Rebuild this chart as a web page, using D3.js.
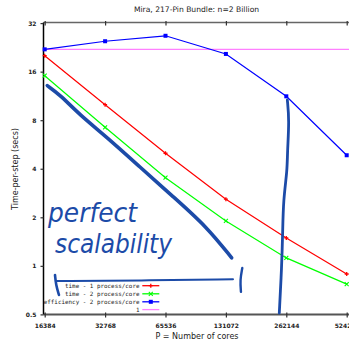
<!DOCTYPE html>
<html>
<head>
<meta charset="utf-8">
<script src="https://cdn.jsdelivr.net/npm/d3@7"></script>
<style>
  html, body { margin: 0; padding: 0; background: #fff; }
  svg { display: block; }
</style>
</head>
<body>
<svg id="chart" width="349" height="341"></svg>
<script>
// chart values
const cores = [16384, 32768, 65536, 131072, 262144, 524288];
const time1 = [20.1, 9.98, 4.99, 2.59, 1.49, 0.89];
const time2 = [15.1, 7.23, 3.52, 1.90, 1.12, 0.77];
const efficiency = [22.0, 24.7, 26.7, 20.6, 11.25, 4.85];   // plotted on the time axis
const unitLine = 22.0;                                        // where efficiency "1" sits
const yTicks = [0.5, 1, 2, 4, 8, 16, 32];
const legendLabels = ['time - 1 process/core', 'time - 2 process/core', 'efficiency - 2 process/core', '1'];

// handwritten pen marks, in data units [cores, secs]
const penDiagonal = [[16880, 13.1], [19530, 11.5], [24560, 8.6], [33370, 6.3], [48900, 4.1], [71660, 2.68], [105150, 1.75], [140080, 1.12]];
const penVertical = [[265200, 10.7], [271300, 8.0], [265200, 5.0], [265200, 3.93], [253300, 2.56], [251500, 1.6], [248700, 0.99], [241900, 0.51]];
const penHorizontal = [[18650, 0.806], [48900, 0.811], [142200, 0.825]];
const penLeftParen = [[18440, 0.878], [18650, 0.761], [19300, 0.66]];
const penRightParen = [[158200, 0.97], [154200, 0.817], [155800, 0.69]];
const penWords = [
  { text: 'perfect', at: [17016, 1.87], len: 89 },
  { text: 'scalability', at: [18440, 1.20], len: 117 }
];

const W = 349, H = 341;
const PLOT = { left: 43.5, right: 351, top: 22.5, bottom: 314.4 };
const PEN = '#1c4ba8';

const svg = d3.select('#chart');

const x = d3.scaleLog().base(2).domain([16384, 524288]).range([44.7, 346.7]);
const y = d3.scaleLog().base(2).domain([0.5, 32]).range([314.4, 23.1]);

// title
svg.append('text')
  .attr('x', 196.5).attr('y', 12)
  .attr('text-anchor', 'middle')
  .attr('font-family', 'DejaVu Sans, sans-serif')
  .attr('font-size', 7.6)
  .attr('fill', '#222')
  .text('Mira, 217-Pin Bundle: n=2 Billion');

// axis titles
svg.append('text')
  .attr('x', 197).attr('y', 339)
  .attr('text-anchor', 'middle')
  .attr('font-family', 'DejaVu Sans, sans-serif')
  .attr('font-size', 8)
  .attr('fill', '#222')
  .text('P = Number of cores');

svg.append('text')
  .attr('transform', 'translate(18,169) rotate(-90)')
  .attr('text-anchor', 'middle')
  .attr('font-family', 'DejaVu Sans, sans-serif')
  .attr('font-size', 8)
  .attr('fill', '#222')
  .text('Time-per-step (secs)');

// axes
const tickFont = (g) => g.selectAll('text')
  .attr('font-family', 'DejaVu Sans, sans-serif')
  .attr('font-weight', 'bold')
  .attr('font-size', 6)
  .attr('fill', '#222');

const xAxisB = svg.append('g')
  .attr('transform', `translate(0,${PLOT.bottom})`)
  .call(d3.axisBottom(x).tickValues(cores).tickFormat(d3.format('d')).tickSizeInner(3).tickSizeOuter(0).tickPadding(6));
xAxisB.select('.domain').attr('d', `M${PLOT.left},0H${W}`).attr('stroke', '#555').attr('stroke-width', 2);
xAxisB.selectAll('.tick line').attr('y1', -2).attr('stroke', '#333').attr('stroke-width', 1.2);
tickFont(xAxisB);

const xAxisT = svg.append('g')
  .attr('transform', `translate(0,${PLOT.top})`)
  .call(d3.axisTop(x).tickValues(cores).tickFormat('').tickSizeInner(-3).tickSizeOuter(0));
xAxisT.select('.domain').attr('d', `M${PLOT.left},0H${W}`).attr('stroke', '#666').attr('stroke-width', 1.5);
xAxisT.selectAll('.tick line').attr('y1', -1.5).attr('stroke', '#333').attr('stroke-width', 1.2);

const yAxis = svg.append('g')
  .attr('transform', `translate(${PLOT.left},0)`)
  .call(d3.axisLeft(y).tickValues(yTicks).tickFormat(d3.format('')).tickSizeInner(3).tickSizeOuter(0).tickPadding(4));
yAxis.select('.domain').attr('d', `M0,${PLOT.top}V${PLOT.bottom}`).attr('stroke', '#000').attr('stroke-width', 1.5);
yAxis.selectAll('.tick line').attr('stroke', '#333').attr('stroke-width', 1.2);
tickFont(yAxis);

// series
const line = d3.line().x((d) => x(d[0])).y((d) => y(d[1]));
const series = [
  { values: time1, color: '#ff0000', marker: 'plus' },
  { values: time2, color: '#00ff00', marker: 'cross' },
  { values: efficiency, color: '#0000ff', marker: 'square' }
];

const plotG = svg.append('g');

plotG.append('path')
  .attr('d', line([[cores[0], unitLine], [cores[cores.length - 1] * 1.05, unitLine]]))
  .attr('fill', 'none').attr('stroke', '#ff80ff').attr('stroke-width', 1.2);

function drawMarker(g, kind, cx, cy, color) {
  if (kind === 'square') {
    g.append('rect').attr('x', cx - 2).attr('y', cy - 2).attr('width', 4).attr('height', 4).attr('fill', color);
  } else if (kind === 'plus') {
    g.append('path').attr('d', `M${cx - 2},${cy}H${cx + 2}M${cx},${cy - 2}V${cy + 2}`)
      .attr('stroke', color).attr('stroke-width', 1.3);
  } else {
    g.append('path').attr('d', `M${cx - 2},${cy - 2}L${cx + 2},${cy + 2}M${cx - 2},${cy + 2}L${cx + 2},${cy - 2}`)
      .attr('stroke', color).attr('stroke-width', 1.1);
  }
}

series.forEach((s) => {
  const pts = cores.map((c, i) => [c, s.values[i]]);
  plotG.append('path')
    .attr('d', line(pts))
    .attr('fill', 'none').attr('stroke', s.color).attr('stroke-width', 1.2);
  pts.forEach((p) => drawMarker(plotG, s.marker, x(p[0]), y(p[1]), s.color));
});

// legend
const legend = svg.append('g');
const legendColors = ['#ff0000', '#00ff00', '#0000ff', '#ff80ff'];
const legendMarkers = ['plus', 'cross', 'square', null];
const rowY = [285.7, 293.8, 301.8, 309.6];
legendLabels.forEach((label, i) => {
  legend.append('text')
    .attr('x', 139.5).attr('y', rowY[i])
    .attr('dy', '0.35em')
    .attr('text-anchor', 'end')
    .attr('font-family', 'DejaVu Sans Mono, monospace')
    .attr('font-size', 5.9)
    .attr('fill', '#222')
    .text(label);
  legend.append('line')
    .attr('x1', 142.3).attr('x2', 159.3)
    .attr('y1', rowY[i]).attr('y2', rowY[i])
    .attr('stroke', legendColors[i]).attr('stroke-width', 1.3);
  if (legendMarkers[i]) drawMarker(legend, legendMarkers[i], 150.8, rowY[i], legendColors[i]);
});

// handwritten annotations
const pen = svg.append('g').attr('fill', 'none').attr('stroke', PEN).attr('stroke-linecap', 'round').attr('stroke-linejoin', 'round');
const penLine = d3.line().x((d) => x(d[0])).y((d) => y(d[1])).curve(d3.curveBasis);
pen.append('path').attr('d', penLine(penDiagonal)).attr('stroke-width', 3.6);
pen.append('path').attr('d', penLine(penVertical)).attr('stroke-width', 2.8);
pen.append('path').attr('d', penLine(penHorizontal)).attr('stroke-width', 2);
pen.append('path').attr('d', penLine(penLeftParen)).attr('stroke-width', 2.6);
pen.append('path').attr('d', penLine(penRightParen)).attr('stroke-width', 2.4);

penWords.forEach((w) => {
  svg.append('text')
    .attr('x', x(w.at[0])).attr('y', y(w.at[1]))
    .attr('textLength', w.len)
    .attr('lengthAdjust', 'spacingAndGlyphs')
    .attr('font-family', 'DejaVu Sans, sans-serif')
    .attr('font-style', 'italic')
    .attr('font-size', 27)
    .attr('fill', PEN)
    .text(w.text);
});
</script>
</body>
</html>
